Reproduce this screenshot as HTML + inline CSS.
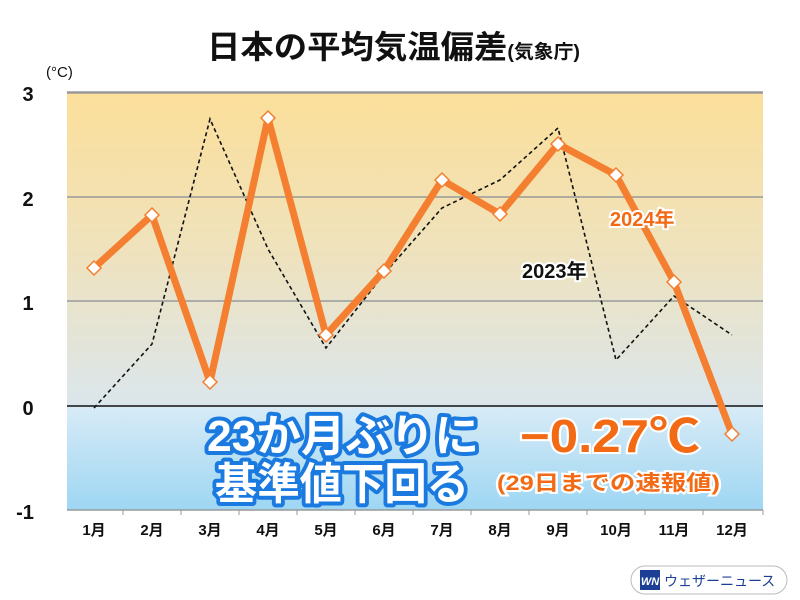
<!DOCTYPE html>
<html><head><meta charset="utf-8"><style>
body{margin:0;background:#fff;width:800px;height:600px;overflow:hidden}
svg{display:block}
text{font-family:"Liberation Sans","Noto Sans CJK JP",sans-serif}
</style></head><body>
<svg width="800" height="600" viewBox="0 0 800 600">
<defs>
<linearGradient id="gt" x1="0" y1="92" x2="0" y2="406" gradientUnits="userSpaceOnUse">
<stop offset="0" stop-color="#fcdf9a"/><stop offset="0.5" stop-color="#efe2bc"/><stop offset="1" stop-color="#dbe6ec"/></linearGradient>
<linearGradient id="gb" x1="0" y1="406" x2="0" y2="510" gradientUnits="userSpaceOnUse">
<stop offset="0" stop-color="#d8ebf6"/><stop offset="1" stop-color="#9ed6f3"/></linearGradient>
</defs>
<text x="207" y="58" textLength="373" lengthAdjust="spacingAndGlyphs" font-size="32" font-weight="bold" fill="#111">日本の平均気温偏差<tspan font-size="19">(気象庁)</tspan></text>
<text x="46" y="77" font-size="15" fill="#111">(°C)</text>
<rect x="67" y="92" width="696" height="314" fill="url(#gt)"/>
<rect x="67" y="406" width="696" height="104" fill="url(#gb)"/>
<g stroke="#999" stroke-width="1.5">
<line x1="67" y1="92.5" x2="763" y2="92.5" stroke-width="2.5"/>
<line x1="67" y1="197" x2="763" y2="197"/>
<line x1="67" y1="301" x2="763" y2="301"/>
<line x1="67" y1="510" x2="763" y2="510"/>
</g>
<line x1="67" y1="406" x2="763" y2="406" stroke="#111" stroke-width="1.5"/>
<g stroke="#999" stroke-width="1">
<line x1="123" y1="510" x2="123" y2="515"/><line x1="181" y1="510" x2="181" y2="515"/><line x1="239" y1="510" x2="239" y2="515"/><line x1="297" y1="510" x2="297" y2="515"/><line x1="355" y1="510" x2="355" y2="515"/><line x1="413" y1="510" x2="413" y2="515"/><line x1="471" y1="510" x2="471" y2="515"/><line x1="529" y1="510" x2="529" y2="515"/><line x1="587" y1="510" x2="587" y2="515"/><line x1="645" y1="510" x2="645" y2="515"/><line x1="703" y1="510" x2="703" y2="515"/><line x1="763" y1="510" x2="763" y2="515"/>
</g>
<g font-size="20" font-weight="bold" fill="#111" text-anchor="middle">
<text x="28" y="101">3</text><text x="28" y="206">2</text><text x="28" y="310">1</text><text x="28" y="415">0</text><text x="25" y="519">-1</text>
</g>
<g font-size="15" font-weight="bold" fill="#111" text-anchor="middle">
<text x="94" y="535">1月</text><text x="152" y="535">2月</text><text x="210" y="535">3月</text><text x="268" y="535">4月</text><text x="326" y="535">5月</text><text x="384" y="535">6月</text><text x="442" y="535">7月</text><text x="500" y="535">8月</text><text x="558" y="535">9月</text><text x="616" y="535">10月</text><text x="674" y="535">11月</text><text x="732" y="535">12月</text>
</g>
<polyline fill="none" stroke="#111" stroke-width="1.6" stroke-dasharray="4,3" points="94,408 152,344 210,119 268,249 326,348 384,274 442,208 500,180 558,128 616,360 674,296 732,335"/>
<polyline fill="none" stroke="#f47f30" stroke-width="7" stroke-linejoin="round" points="94,268 152,215 210,382 268,118 326,335 384,271 442,180 500,214 558,144 616,175 674,282 732,434"/>
<g fill="#fff" stroke="#f47f30" stroke-width="1.5">
<path d="M94,261 l7,7 -7,7 -7,-7z"/><path d="M152,208 l7,7 -7,7 -7,-7z"/><path d="M210,375 l7,7 -7,7 -7,-7z"/><path d="M268,111 l7,7 -7,7 -7,-7z"/><path d="M326,328 l7,7 -7,7 -7,-7z"/><path d="M384,264 l7,7 -7,7 -7,-7z"/><path d="M442,173 l7,7 -7,7 -7,-7z"/><path d="M500,207 l7,7 -7,7 -7,-7z"/><path d="M558,137 l7,7 -7,7 -7,-7z"/><path d="M616,168 l7,7 -7,7 -7,-7z"/><path d="M674,275 l7,7 -7,7 -7,-7z"/><path d="M732,427 l7,7 -7,7 -7,-7z"/>
</g>
<text x="610" y="226" font-size="20" font-weight="bold" fill="#f26a14" stroke="#fff" stroke-width="4" paint-order="stroke">2024年</text>
<text x="522" y="278" font-size="20" font-weight="bold" fill="#111" stroke="#fff" stroke-width="4" paint-order="stroke">2023年</text>
<g font-weight="bold" fill="#fff" stroke="#1a7ae0" stroke-width="8" paint-order="stroke" stroke-linejoin="round">
<text x="207" y="451" font-size="44" textLength="272" lengthAdjust="spacingAndGlyphs">23か月ぶりに</text>
<text x="215" y="499" font-size="44" textLength="254" lengthAdjust="spacingAndGlyphs">基準値下回る</text>
</g>
<g font-weight="bold" fill="#f26a14" stroke="#fff" stroke-width="4" paint-order="stroke">
<text x="520" y="452" font-size="46" textLength="180" lengthAdjust="spacingAndGlyphs">−0.27℃</text>
<text x="497" y="490" font-size="21" textLength="223" lengthAdjust="spacingAndGlyphs">(29日までの速報値)</text>
</g>
<rect x="631" y="566" width="156" height="28" rx="14" fill="#fff" stroke="#bbb"/>
<rect x="640" y="570" width="20" height="20" fill="#1c3f95"/>
<text x="650" y="585" font-size="11" font-weight="bold" fill="#fff" text-anchor="middle" font-style="italic">WN</text>
<text x="664" y="586" font-size="14" fill="#1c3f95">ウェザーニュース</text>
</svg>
</body></html>
